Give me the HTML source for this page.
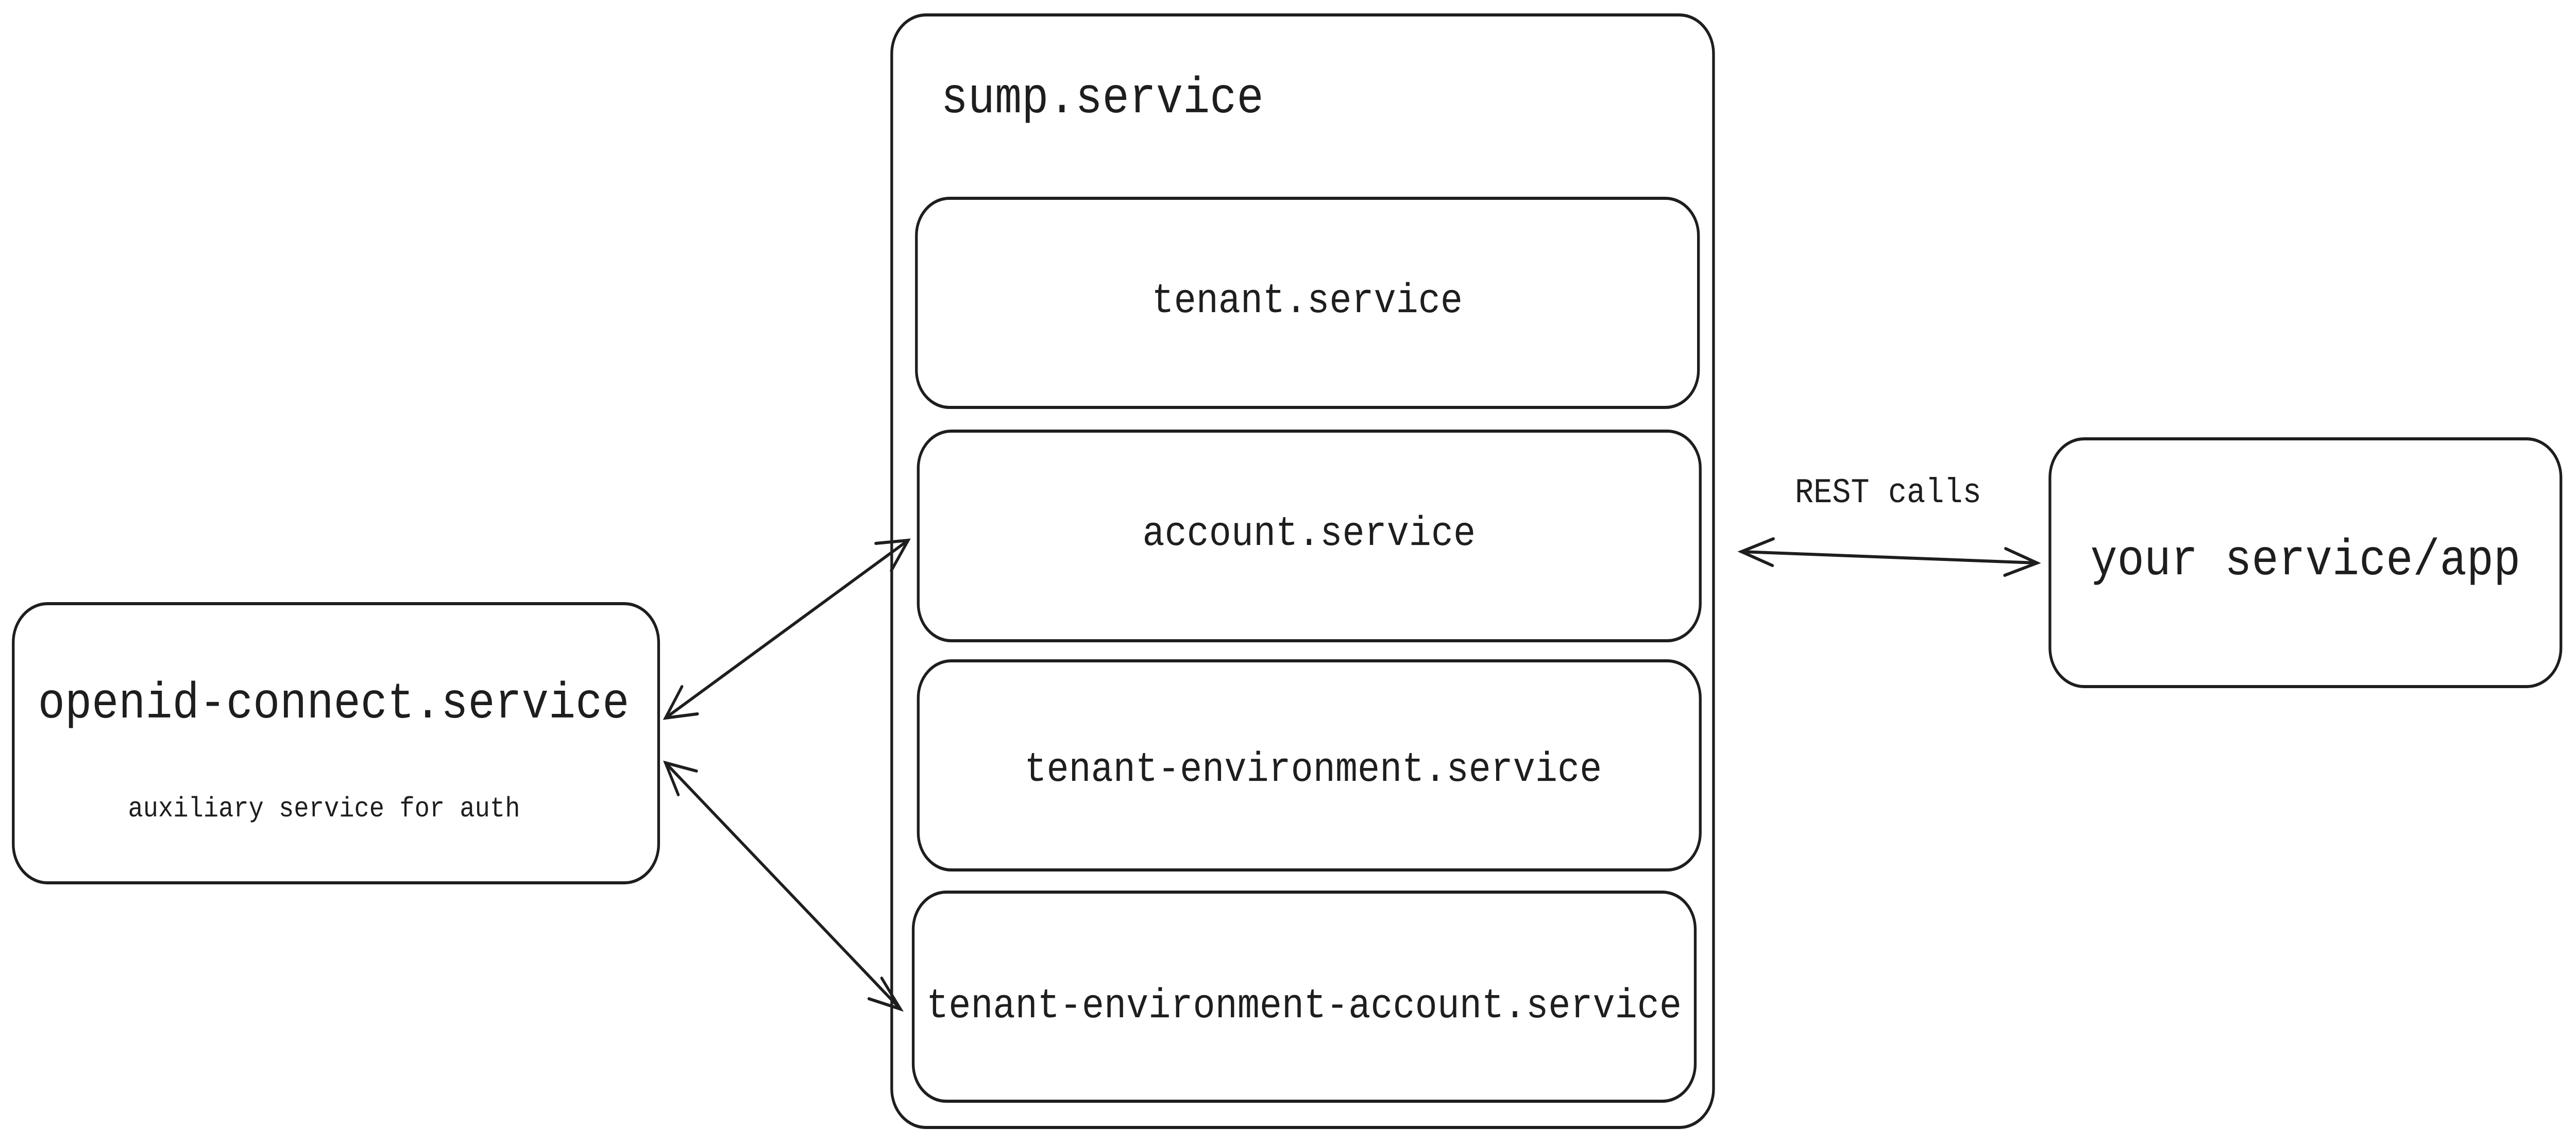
<!DOCTYPE html>
<html><head><meta charset="utf-8"><style>
html,body{margin:0;padding:0;background:#fff;width:100%;height:100%;overflow:hidden;}
svg{display:block;position:fixed;left:0;top:0;width:100vw;height:100vh;}
text{font-family:"Liberation Mono",monospace;fill:#1e1e1e;}
</style></head><body>
<svg viewBox="0 0 5636 2223" preserveAspectRatio="none" xmlns="http://www.w3.org/2000/svg">
<g fill="none" stroke="#1e1e1e" stroke-width="6" stroke-linecap="round">
<rect x="1951" y="29" width="1798" height="2160" rx="75"/>
<rect x="2005" y="385" width="1711" height="406" rx="72"/>
<rect x="2009" y="837" width="1711" height="407" rx="72"/>
<rect x="2009" y="1283" width="1711" height="406" rx="72"/>
<rect x="1998" y="1732" width="1711" height="406" rx="72"/>
<rect x="29" y="1172" width="1412" height="542" rx="75"/>
<rect x="4485" y="852" width="1118" height="481" rx="75"/>
<line x1="3810" y1="1071" x2="4457" y2="1093"/>
<polyline points="3880,1046 3810,1071 3878,1098"/>
<polyline points="4388,1065 4457,1093 4386,1117"/>
<line x1="1456" y1="1394" x2="1987" y2="1049"/>
<polyline points="1916,1055 1987,1049 1950,1108"/>
<polyline points="1492,1333 1456,1394 1526,1386"/>
<line x1="1456" y1="1481" x2="1970" y2="1959"/>
<polyline points="1929,1899 1970,1959 1901,1939"/>
<polyline points="1524,1497 1456,1481 1484,1543"/>
</g>
<text x="2059" y="218" font-size="98">sump.service</text>
<text x="2860" y="606" font-size="81" text-anchor="middle">tenant.service</text>
<text x="2864" y="1058" font-size="81" text-anchor="middle">account.service</text>
<text x="2873" y="1516" font-size="81" text-anchor="middle">tenant-environment.service</text>
<text x="2853" y="1975" font-size="81" text-anchor="middle">tenant-environment-account.service</text>
<text x="730" y="1393" font-size="98" text-anchor="middle">openid-connect.service</text>
<text x="709" y="1585" font-size="55" text-anchor="middle">auxiliary service for auth</text>
<text x="5044" y="1115" font-size="98" text-anchor="middle">your service/app</text>
<text x="4131" y="975" font-size="68" text-anchor="middle">REST calls</text>
</svg>
</body></html>
